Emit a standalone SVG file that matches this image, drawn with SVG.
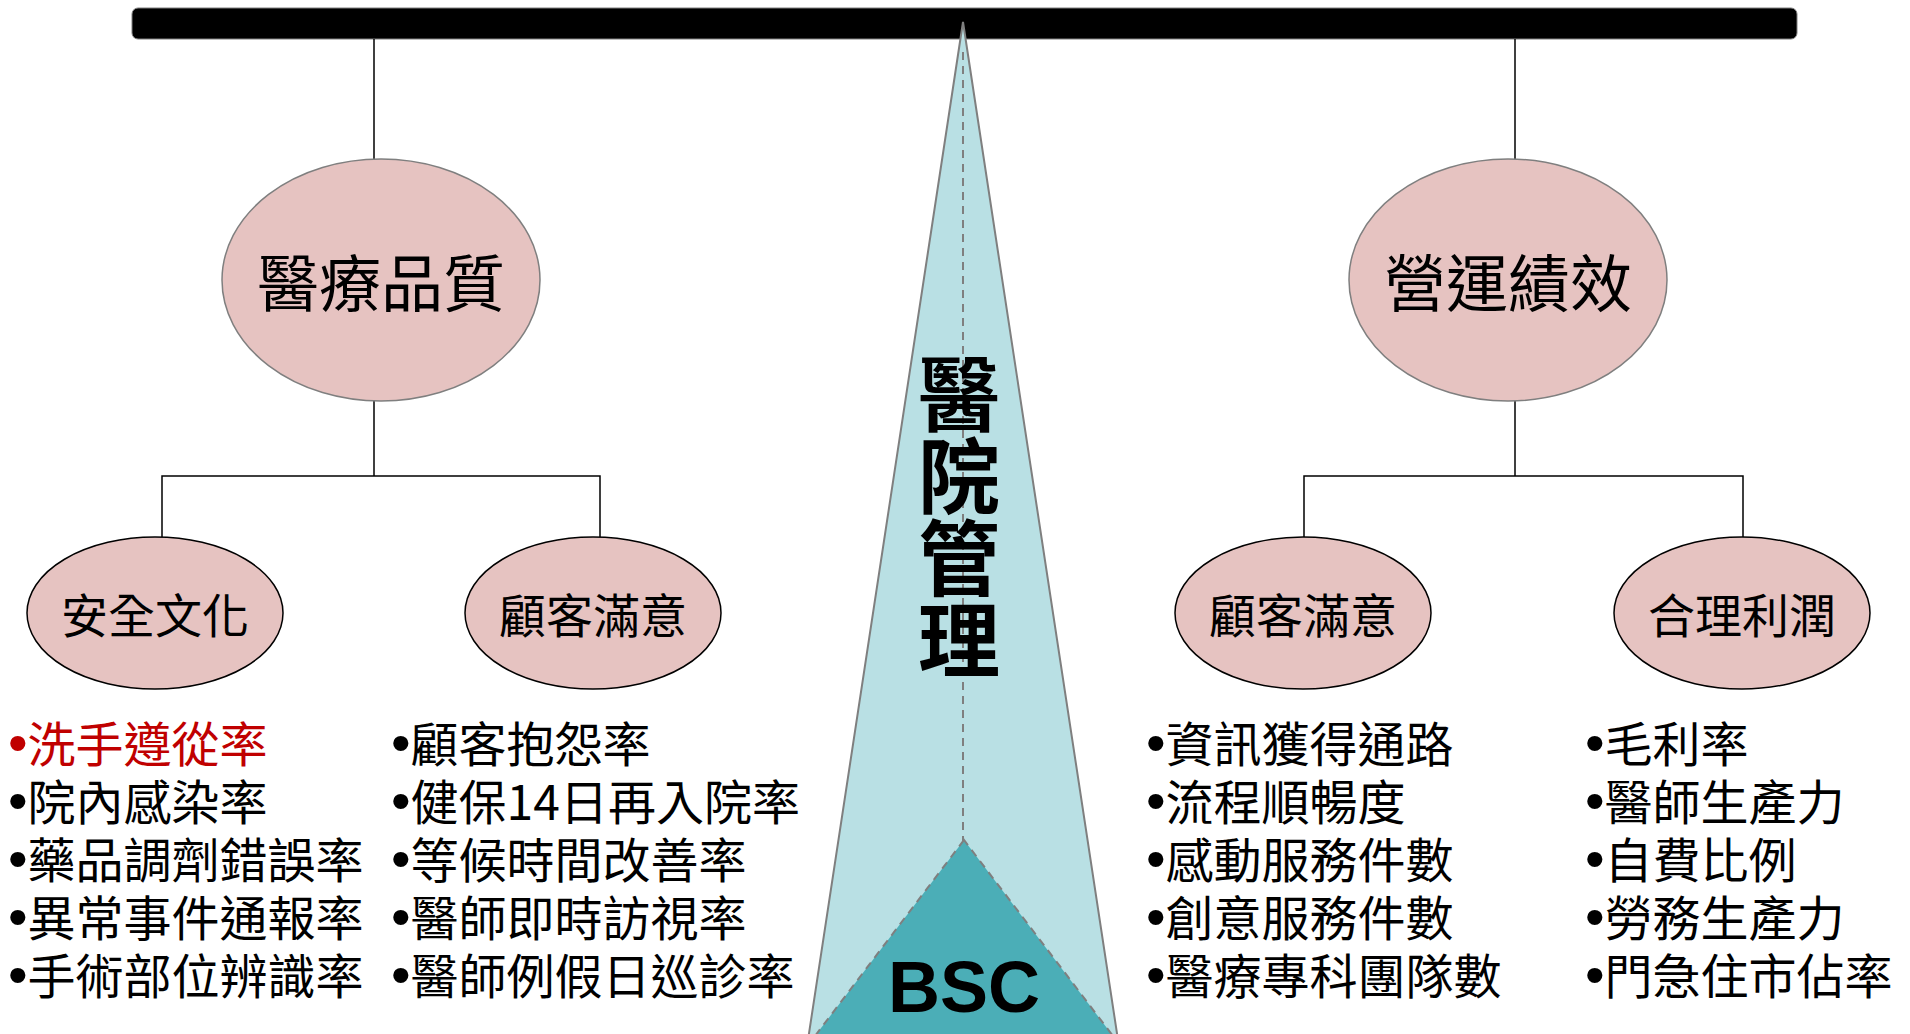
<svg xmlns="http://www.w3.org/2000/svg" width="1910" height="1034" viewBox="0 0 1910 1034">
<style>
.cj{font-family:"Noto Sans CJK TC","Noto Sans CJK SC",sans-serif;fill:#000}
.top{fill:#E6C3C1;stroke:#7F7F7F;stroke-width:1.5}
.sub{fill:#E6C3C1;stroke:#000;stroke-width:1.5}
.ln{stroke:#000;stroke-width:1.5;fill:none}
.t1{font-size:62px}
.t2{font-size:47px}
.li{font-size:48px}
.bu{font-family:"Liberation Sans",sans-serif;font-size:56px}
</style>
<rect x="0" y="0" width="1910" height="1034" fill="#fff"/>
<rect id="beam" x="132" y="8" width="1665" height="31" rx="6" fill="#000" stroke="#7F7F7F" stroke-width="1"/>
<g id="fulcrum">
<polygon points="963,22 808,1040 1118,1040" fill="#B9E0E4" stroke="#7F7F7F" stroke-width="2"/>
<line x1="963" y1="52" x2="963" y2="855" stroke="#7F7F7F" stroke-width="2" stroke-dasharray="8,6"/>
<polygon points="964,840 815,1036 1113,1036" fill="#4BAEB7" stroke="#7F7F7F" stroke-width="2" stroke-dasharray="8,6"/>
<text x="964" y="1012" text-anchor="middle" font-family="Liberation Sans,Arial,sans-serif" font-weight="bold" font-size="72" fill="#000">BSC</text>
<text class="cj" x="959" y="353" font-size="82" font-weight="bold" writing-mode="vertical-rl" style="writing-mode:vertical-rl;text-orientation:upright">醫院管理</text>
</g>
<g id="connectors">
<line class="ln" x1="374" y1="39" x2="374" y2="160"/>
<line class="ln" x1="1515" y1="39" x2="1515" y2="160"/>
<polyline class="ln" points="374,401 374,476"/>
<polyline class="ln" points="162,537 162,476 600,476 600,537"/>
<polyline class="ln" points="1515,401 1515,476"/>
<polyline class="ln" points="1304,537 1304,476 1743,476 1743,537"/>
</g>
<g id="node-quality">
<ellipse class="top" cx="381" cy="280" rx="159" ry="121"/>
<text class="cj t1" x="381" y="307" text-anchor="middle">醫療品質</text>
</g>
<g id="node-operation">
<ellipse class="top" cx="1508" cy="280" rx="159" ry="121"/>
<text class="cj t1" x="1508" y="307" text-anchor="middle">營運績效</text>
</g>
<g id="node-safety">
<ellipse class="sub" cx="155" cy="613" rx="128" ry="76"/>
<text class="cj t2" x="155" y="633" text-anchor="middle">安全文化</text>
</g>
<g id="node-satisfaction-left">
<ellipse class="sub" cx="593" cy="613" rx="128" ry="76"/>
<text class="cj t2" x="593" y="633" text-anchor="middle">顧客滿意</text>
</g>
<g id="node-satisfaction-right">
<ellipse class="sub" cx="1303" cy="613" rx="128" ry="76"/>
<text class="cj t2" x="1303" y="633" text-anchor="middle">顧客滿意</text>
</g>
<g id="node-profit">
<ellipse class="sub" cx="1742" cy="613" rx="128" ry="76"/>
<text class="cj t2" x="1742" y="633" text-anchor="middle">合理利潤</text>
</g>
<g id="list-safety">
<text class="cj li"><tspan x="8" y="762" fill="#C00000"><tspan class="bu">•</tspan>洗手遵從率</tspan><tspan x="8" y="820"><tspan class="bu">•</tspan>院內感染率</tspan><tspan x="8" y="878"><tspan class="bu">•</tspan>藥品調劑錯誤率</tspan><tspan x="8" y="936"><tspan class="bu">•</tspan>異常事件通報率</tspan><tspan x="8" y="994"><tspan class="bu">•</tspan>手術部位辨識率</tspan></text>
</g>
<g id="list-satisfaction-left">
<text class="cj li"><tspan x="391" y="762"><tspan class="bu">•</tspan>顧客抱怨率</tspan><tspan x="391" y="820"><tspan class="bu">•</tspan>健保14日再入院率</tspan><tspan x="391" y="878"><tspan class="bu">•</tspan>等候時間改善率</tspan><tspan x="391" y="936"><tspan class="bu">•</tspan>醫師即時訪視率</tspan><tspan x="391" y="994"><tspan class="bu">•</tspan>醫師例假日巡診率</tspan></text>
</g>
<g id="list-satisfaction-right">
<text class="cj li"><tspan x="1146" y="762"><tspan class="bu">•</tspan>資訊獲得通路</tspan><tspan x="1146" y="820"><tspan class="bu">•</tspan>流程順暢度</tspan><tspan x="1146" y="878"><tspan class="bu">•</tspan>感動服務件數</tspan><tspan x="1146" y="936"><tspan class="bu">•</tspan>創意服務件數</tspan><tspan x="1146" y="994"><tspan class="bu">•</tspan>醫療專科團隊數</tspan></text>
</g>
<g id="list-profit">
<text class="cj li"><tspan x="1585" y="762"><tspan class="bu">•</tspan>毛利率</tspan><tspan x="1585" y="820"><tspan class="bu">•</tspan>醫師生產力</tspan><tspan x="1585" y="878"><tspan class="bu">•</tspan>自費比例</tspan><tspan x="1585" y="936"><tspan class="bu">•</tspan>勞務生產力</tspan><tspan x="1585" y="994"><tspan class="bu">•</tspan>門急住市佔率</tspan></text>
</g>
</svg>
